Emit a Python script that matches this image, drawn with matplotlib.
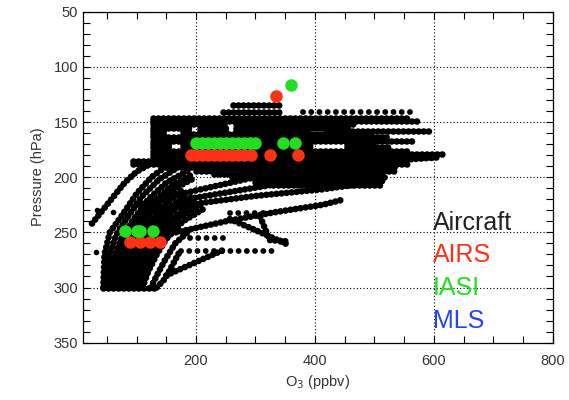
import matplotlib
matplotlib.use("Agg")
import matplotlib.pyplot as plt
from matplotlib.ticker import MultipleLocator

plt.rcParams['font.family'] = ['Liberation Sans', 'DejaVu Sans']

AIRC = "black"
AIRS = "#FF3014"
IASI = "#1EE01E"
MLS = "#2244FF"

# aircraft: horizontal flight legs (pressure, O3 start, O3 end)
leg_p = [135, 141, 146, 149,
         152, 152, 155, 155, 155,
         158, 158, 158, 158, 158,
         161, 161, 164, 167,
         170, 170, 170, 173, 173, 173,
         176, 179, 182, 185, 188, 191, 194, 197, 200, 204, 207]
leg_x0 = [262, 245, 128, 128,
          128, 267, 128, 207, 267,
          128, 178, 207, 267, 420,
          128, 178, 128, 128,
          128, 178, 454, 128, 178, 454,
          128, 128, 128, 94, 94, 150, 200, 230, 260, 300, 330]
leg_x1 = [346, 346, 560, 577,
          250, 470, 195, 250, 460,
          150, 195, 250, 395, 593,
          150, 500, 526, 570,
          156, 395, 500, 156, 397, 526,
          560, 615, 600, 520, 560, 540, 538, 520, 520, 500, 509]

# aircraft: slanted tracks (O3, pressure) vertices
trk_x = [
    [25, 40, 65, 80, 100, 130, 160],
    [44, 46, 55, 75, 100, 125, 150],
    [50, 53, 66, 85, 110, 138, 170],
    [55, 60, 75, 95, 120, 150, 190],
    [62, 66, 80, 100, 128, 158, 195],
    [68, 72, 88, 108, 135, 165, 200],
    [75, 80, 95, 115, 142, 175],
    [82, 88, 102, 122, 150, 185],
    [89, 96, 110, 129, 158, 192],
    [96, 104, 118, 136, 165, 200],
    [103, 112, 126, 143, 171, 208],
    [110, 120, 134, 150, 178, 215],
    [124, 135, 148, 165, 190],
    [134, 148, 158, 172],
    [44, 134],
    [100, 200, 300, 400, 500, 610],
    [116, 200, 300, 413, 520],
    [150, 250, 330, 413, 450],
    [173, 250, 350, 450],
    [150, 250],
    [257, 300, 358],
    [308, 324, 350],
]
trk_p = [
    [242, 232, 215, 205, 195, 186, 184],
    [300, 270, 250, 235, 215, 200, 190],
    [300, 272, 252, 236, 217, 202, 191],
    [300, 275, 255, 238, 220, 205, 193],
    [300, 278, 258, 241, 223, 208, 197],
    [300, 280, 260, 243, 225, 210, 200],
    [300, 281, 262, 246, 228, 212],
    [300, 282, 265, 248, 230, 215],
    [300, 283, 266, 250, 232, 218],
    [300, 284, 268, 252, 235, 222],
    [300, 285, 269, 254, 237, 225],
    [300, 285, 270, 256, 240, 228],
    [300, 288, 275, 260, 248],
    [300, 292, 282, 268],
    [300, 300],
    [225, 212, 200, 192, 186, 182],
    [232, 224, 217, 211, 203],
    [252, 240, 232, 225, 220],
    [221, 214, 205, 195],
    [289, 265],
    [238, 248, 262],
    [236, 257, 258],
]
# aircraft: sparse dotted rows (pressure, O3 start, O3 end)
row_p = [232.6, 255, 267, 141]
row_x0 = [257, 190, 175, 380]
row_x1 = [320, 250, 330, 560]
# aircraft: isolated dots
dot_x = [32, 34, 61]
dot_p = [268, 230, 232]

airs_x = [89, 106, 123, 139, 192, 200, 210, 220, 230, 240, 250, 260, 270, 280, 292, 324, 371, 334]
airs_p = [258.5, 258.5, 258.5, 258.5, 180, 180, 180, 180, 180, 180, 180, 180, 180, 180, 180, 180, 180, 126.5]
iasi_x = [80, 100, 106, 128, 200, 210, 220, 230, 240, 250, 260, 270, 280, 290, 300, 346, 366, 359]
iasi_p = [248.5, 248.5, 248.5, 248.5, 169, 169, 169, 169, 169, 169, 169, 169, 169, 169, 169, 169, 169, 116.5]

fig = plt.figure(figsize=(5.69, 4.0), dpi=100)
ax = fig.add_axes([0.146, 0.1433, 0.8253, 0.8275])

bead = dict(color=AIRC, lw=4.8, ls=(0, (0.01, 0.75)), dash_capstyle='round', zorder=2)
for p, a, b in zip(leg_p, leg_x0, leg_x1):
    ax.plot([a, b], [p, p], **bead)
for xs, ps in zip(trk_x, trk_p):
    ax.plot(xs, ps, **bead)
for p, a, b in zip(row_p, row_x0, row_x1):
    ax.plot([a, b], [p, p], color=AIRC, lw=4.2, ls=(0, (0.01, 1.4)),
            dash_capstyle='round', zorder=2)
ax.scatter(dot_x, dot_p, s=16, color=AIRC, lw=0, zorder=2)

ax.scatter(airs_x, airs_p, s=81, color=AIRS, lw=0, zorder=3)
ax.scatter(iasi_x, iasi_p, s=81, color=IASI, lw=0, zorder=4)

ax.set_xlim(10, 800)
ax.set_ylim(350, 50)
ax.xaxis.set_major_locator(MultipleLocator(200))
ax.xaxis.set_minor_locator(MultipleLocator(50))
ax.yaxis.set_major_locator(MultipleLocator(50))
ax.yaxis.set_minor_locator(MultipleLocator(10))
ax.tick_params(which='both', direction='in', top=True, right=True,
               length=5, width=0.8, labelsize=10.5, colors='black',
               labelcolor='#333333')
ax.tick_params(axis='x', which='major', pad=8)
ax.grid(True, which='major', color='black', linestyle=(0, (1, 2)), lw=0.8)
ax.set_axisbelow(True)
for s in ax.spines.values():
    s.set_linewidth(0.9)

ax.set_xlabel("O$_3$ (ppbv)", fontsize=10.5, labelpad=4, color='#333333')
ax.set_ylabel("Pressure (hPa)", fontsize=10.5, labelpad=6, color='#333333')

fig.canvas.draw()
ylabels = ax.get_yticklabels()
ylabels[0].set_va('top')
ylabels[-1].set_va('bottom')

ax.text(598, 241.8, "Aircraft", color="#222222", fontsize=18, va='center')
ax.text(598, 270.8, "AIRS", color=AIRS, fontsize=18, va='center')
ax.text(598, 300.7, "IASI", color=IASI, fontsize=18, va='center')
ax.text(598, 330.6, "MLS", color=MLS, fontsize=18, va='center')

fig.savefig("out.png", dpi=100)
